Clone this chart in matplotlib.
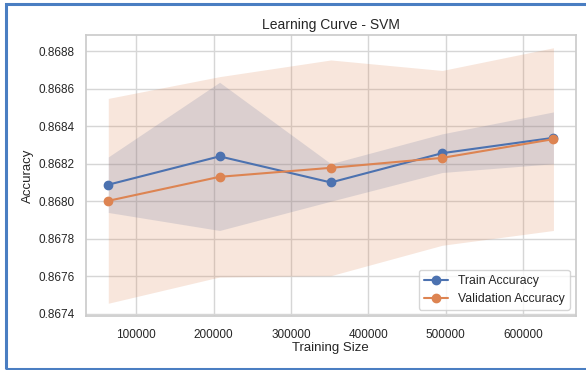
import matplotlib
matplotlib.use("Agg")
import matplotlib.pyplot as plt
import seaborn as sns
import numpy as np
from matplotlib.patches import Rectangle

sns.set_theme(style="whitegrid")
plt.rcParams['font.family'] = ['Liberation Sans', 'DejaVu Sans']

train_sizes = [63950, 207838, 351725, 495613, 639500]
train_mean = [0.868088, 0.868239, 0.868100, 0.868256, 0.868338]
train_std = [0.000148, 0.000395, 0.000100, 0.000103, 0.000138]
val_mean = [0.868002, 0.868130, 0.868178, 0.868231, 0.868331]
val_std = [0.000546, 0.000534, 0.000575, 0.000466, 0.000487]

blue = "#4C72B0"
orange = "#DD8452"

fig = plt.figure(figsize=(5.86, 3.70), dpi=100)
ax = fig.add_axes([0.1468, 0.1459, 0.8356, 0.7595])

tm, ts = np.array(train_mean), np.array(train_std)
vm, vs = np.array(val_mean), np.array(val_std)

ax.plot(train_sizes, train_mean, 'o-', color=blue, lw=1.5, ms=6, label="Train Accuracy")
ax.plot(train_sizes, val_mean, 'o-', color=orange, lw=1.5, ms=6, label="Validation Accuracy")
ax.fill_between(train_sizes, tm - ts, tm + ts, color=blue, alpha=0.2, lw=0)
ax.fill_between(train_sizes, vm - vs, vm + vs, color=orange, alpha=0.2, lw=0)

ax.set_title("Learning Curve - SVM", fontsize=10, color="#262626", pad=4)
ax.set_xlabel("Training Size", fontsize=9.5)
ax.set_ylabel("Accuracy", fontsize=9.5)
ax.yaxis.set_label_coords(-0.106, 0.5)
ax.xaxis.set_label_coords(0.5, -0.094)
ax.tick_params(axis='x', labelsize=8.5, pad=3.5)
ax.tick_params(axis='y', labelsize=8.5, pad=2)
ax.set_xticks([100000, 200000, 300000, 400000, 500000, 600000])
ax.set_yticks([0.8674, 0.8676, 0.8678, 0.8680, 0.8682, 0.8684, 0.8686, 0.8688])
ax.set_yticklabels([f"{v:.4f}" for v in ax.get_yticks()])
ax.set_xticklabels([str(v) for v in ax.get_xticks()])
ax.grid(color="#d6d6d6")
ax.legend(loc="lower right", fontsize=8.8, frameon=True)

# blue frame around the figure
fig.patches.append(Rectangle((6 / 586, 1.5 / 370), 1.2, 364.5 / 370,
                             transform=fig.transFigure, fill=False,
                             edgecolor="#4A7EC2", lw=2.2, zorder=10))

fig.savefig("out.png", dpi=100)
